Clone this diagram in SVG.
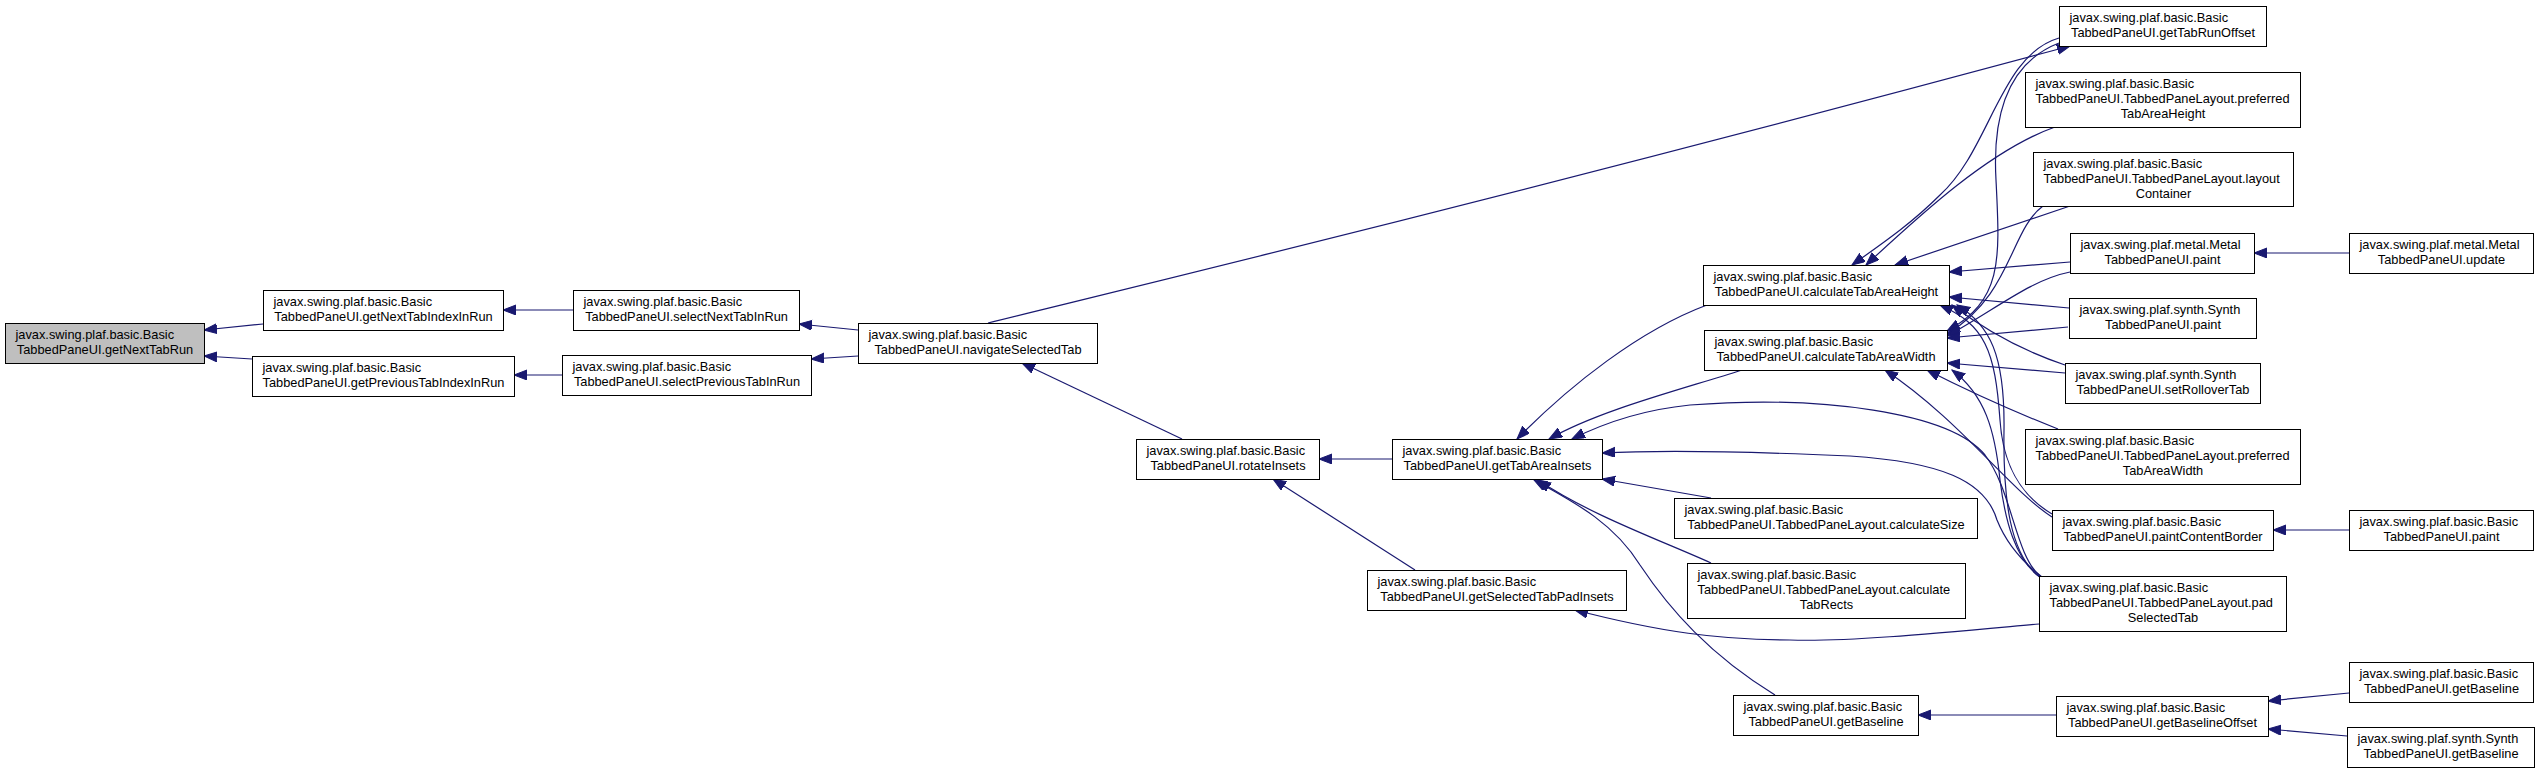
<svg xmlns="http://www.w3.org/2000/svg" width="2540" height="773" viewBox="0 0 2540 773">
<defs>
<marker id="a" markerUnits="userSpaceOnUse" markerWidth="14" markerHeight="11" refX="13" refY="5" orient="auto">
<path d="M0,0 L13,5 L0,10 Z" fill="#191970" stroke="#191970" stroke-width="1"/>
</marker>
</defs>
<style>
.n rect{fill:#fff;stroke:#000;stroke-width:1}
#root rect{fill:#bfbfbf}
text{font-family:"Liberation Sans",Arial,sans-serif;font-size:12.8px;fill:#000}
.c{text-anchor:middle}
#edges path{fill:none;stroke:#191970;stroke-width:1.2;marker-end:url(#a)}
</style>
<rect width="2540" height="773" fill="#fff"/>
<g id="edges">
<path d="M263,324 L204,330"/>
<path d="M252,359 L204,356"/>
<path d="M573,310 L503,310"/>
<path d="M562,375 L514,375"/>
<path d="M858,330 L799,324"/>
<path d="M858,356 L811,359"/>
<path d="M988,323 C1100,295 1500,200 2070,46"/>
<path d="M1182,439 L1022,363"/>
<path d="M1392,459 L1319,459"/>
<path d="M1415,570 L1273,479"/>
<path d="M1707,305 C1640,330 1570,385 1517,439"/>
<path d="M1742,370 C1680,390 1600,410 1549,439"/>
<path d="M2040,576 C2015,555 2012,490 1985,455 C1950,412 1820,395 1690,405 C1640,410 1600,425 1572,439"/>
<path d="M2042,577 C2020,560 2005,540 1997,520 C1985,480 1940,462 1850,456 C1760,452 1660,450 1602,453"/>
<path d="M1711,498 L1602,479"/>
<path d="M1711,563 C1660,540 1590,515 1538,480"/>
<path d="M1775,695 C1710,655 1670,610 1640,565 C1615,525 1580,505 1534,480"/>
<path d="M2039,624 C1950,632 1850,642 1790,640 C1720,640 1660,632 1575,610"/>
<path d="M2059,38 C2000,55 1990,150 1940,195 C1910,225 1880,245 1852,265"/>
<path d="M2055,127 C1990,150 1920,215 1866,265"/>
<path d="M2070,206 L1895,265"/>
<path d="M2070,262 L1949,272"/>
<path d="M2069,308 L1949,297"/>
<path d="M2065,365 C2020,350 1985,330 1952,305"/>
<path d="M2052,514 C2020,495 2003,465 2000,420 C1995,350 1985,325 1940,305"/>
<path d="M2040,577 C2010,555 2003,500 2004,430 C2005,355 1990,325 1957,305"/>
<path d="M2059,43 C2010,62 1992,110 1996,180 C2000,260 2003,300 1947,331"/>
<path d="M2043,206 C2010,230 2012,295 1947,334"/>
<path d="M2070,272 C2030,280 1995,310 1947,336"/>
<path d="M2068,327 L1947,338"/>
<path d="M2065,373 L1947,363"/>
<path d="M2058,429 C2010,410 1970,392 1927,370"/>
<path d="M2052,517 C2010,490 1960,420 1885,370"/>
<path d="M2041,578 C2015,560 2005,520 2000,480 C1995,430 1985,395 1952,370"/>
<path d="M2349,253 L2254,253"/>
<path d="M2349,530 L2273,530"/>
<path d="M2056,715 L1918,715"/>
<path d="M2349,693 L2268,701"/>
<path d="M2347,736 L2268,729"/>
</g>
<g id="root" class="n"><rect x="5.5" y="323.5" width="199" height="40"/><text x="15.5" y="339">javax.swing.plaf.basic.Basic</text><text class="c" x="105" y="354">TabbedPaneUI.getNextTabRun</text></g>
<g id="n2" class="n"><rect x="263.5" y="290.5" width="240" height="40"/><text x="273.5" y="306">javax.swing.plaf.basic.Basic</text><text class="c" x="383.5" y="321">TabbedPaneUI.getNextTabIndexInRun</text></g>
<g id="n3" class="n"><rect x="252.5" y="356.5" width="262" height="40"/><text x="262.5" y="372">javax.swing.plaf.basic.Basic</text><text class="c" x="383.5" y="387">TabbedPaneUI.getPreviousTabIndexInRun</text></g>
<g id="n4" class="n"><rect x="573.5" y="290.5" width="226" height="40"/><text x="583.5" y="306">javax.swing.plaf.basic.Basic</text><text class="c" x="686.5" y="321">TabbedPaneUI.selectNextTabInRun</text></g>
<g id="n5" class="n"><rect x="562.5" y="355.5" width="249" height="40"/><text x="572.5" y="371">javax.swing.plaf.basic.Basic</text><text class="c" x="687" y="386">TabbedPaneUI.selectPreviousTabInRun</text></g>
<g id="n6" class="n"><rect x="858.5" y="323.5" width="239" height="40"/><text x="868.5" y="339">javax.swing.plaf.basic.Basic</text><text class="c" x="978" y="354">TabbedPaneUI.navigateSelectedTab</text></g>
<g id="n7" class="n"><rect x="1136.5" y="439.5" width="183" height="40"/><text x="1146.5" y="455">javax.swing.plaf.basic.Basic</text><text class="c" x="1228" y="470">TabbedPaneUI.rotateInsets</text></g>
<g id="n8" class="n"><rect x="1392.5" y="439.5" width="210" height="40"/><text x="1402.5" y="455">javax.swing.plaf.basic.Basic</text><text class="c" x="1497.5" y="470">TabbedPaneUI.getTabAreaInsets</text></g>
<g id="n9" class="n"><rect x="1367.5" y="570.5" width="259" height="40"/><text x="1377.5" y="586">javax.swing.plaf.basic.Basic</text><text class="c" x="1497" y="601">TabbedPaneUI.getSelectedTabPadInsets</text></g>
<g id="n10" class="n"><rect x="1703.5" y="265.5" width="246" height="40"/><text x="1713.5" y="281">javax.swing.plaf.basic.Basic</text><text class="c" x="1826.5" y="296">TabbedPaneUI.calculateTabAreaHeight</text></g>
<g id="n11" class="n"><rect x="1704.5" y="330.5" width="243" height="40"/><text x="1714.5" y="346">javax.swing.plaf.basic.Basic</text><text class="c" x="1826" y="361">TabbedPaneUI.calculateTabAreaWidth</text></g>
<g id="n12" class="n"><rect x="1674.5" y="498.5" width="303" height="40"/><text x="1684.5" y="514">javax.swing.plaf.basic.Basic</text><text class="c" x="1826" y="529">TabbedPaneUI.TabbedPaneLayout.calculateSize</text></g>
<g id="n13" class="n"><rect x="1687.5" y="563.5" width="278" height="55"/><text x="1697.5" y="579">javax.swing.plaf.basic.Basic</text><text x="1697.5" y="594">TabbedPaneUI.TabbedPaneLayout.calculate</text><text class="c" x="1826.5" y="608.5">TabRects</text></g>
<g id="n14" class="n"><rect x="1733.5" y="695.5" width="185" height="40"/><text x="1743.5" y="711">javax.swing.plaf.basic.Basic</text><text class="c" x="1826" y="726">TabbedPaneUI.getBaseline</text></g>
<g id="n15" class="n"><rect x="2059.5" y="6.5" width="207" height="40"/><text x="2069.5" y="22">javax.swing.plaf.basic.Basic</text><text class="c" x="2163" y="37">TabbedPaneUI.getTabRunOffset</text></g>
<g id="n16" class="n"><rect x="2025.5" y="72.5" width="275" height="55"/><text x="2035.5" y="88">javax.swing.plaf.basic.Basic</text><text x="2035.5" y="103">TabbedPaneUI.TabbedPaneLayout.preferred</text><text class="c" x="2163" y="117.5">TabAreaHeight</text></g>
<g id="n17" class="n"><rect x="2033.5" y="152.5" width="260" height="54"/><text x="2043.5" y="168">javax.swing.plaf.basic.Basic</text><text x="2043.5" y="183">TabbedPaneUI.TabbedPaneLayout.layout</text><text class="c" x="2163.5" y="197.5">Container</text></g>
<g id="n18" class="n"><rect x="2070.5" y="233.5" width="184" height="40"/><text x="2080.5" y="249">javax.swing.plaf.metal.Metal</text><text class="c" x="2162.5" y="264">TabbedPaneUI.paint</text></g>
<g id="n19" class="n"><rect x="2349.5" y="233.5" width="184" height="40"/><text x="2359.5" y="249">javax.swing.plaf.metal.Metal</text><text class="c" x="2441.5" y="264">TabbedPaneUI.update</text></g>
<g id="n20" class="n"><rect x="2069.5" y="298.5" width="187" height="40"/><text x="2079.5" y="314">javax.swing.plaf.synth.Synth</text><text class="c" x="2163" y="329">TabbedPaneUI.paint</text></g>
<g id="n21" class="n"><rect x="2065.5" y="363.5" width="195" height="40"/><text x="2075.5" y="379">javax.swing.plaf.synth.Synth</text><text class="c" x="2163" y="394">TabbedPaneUI.setRolloverTab</text></g>
<g id="n22" class="n"><rect x="2025.5" y="429.5" width="275" height="55"/><text x="2035.5" y="445">javax.swing.plaf.basic.Basic</text><text x="2035.5" y="460">TabbedPaneUI.TabbedPaneLayout.preferred</text><text class="c" x="2163" y="474.5">TabAreaWidth</text></g>
<g id="n23" class="n"><rect x="2052.5" y="510.5" width="221" height="40"/><text x="2062.5" y="526">javax.swing.plaf.basic.Basic</text><text class="c" x="2163" y="541">TabbedPaneUI.paintContentBorder</text></g>
<g id="n24" class="n"><rect x="2349.5" y="510.5" width="184" height="40"/><text x="2359.5" y="526">javax.swing.plaf.basic.Basic</text><text class="c" x="2441.5" y="541">TabbedPaneUI.paint</text></g>
<g id="n25" class="n"><rect x="2039.5" y="576.5" width="247" height="55"/><text x="2049.5" y="592">javax.swing.plaf.basic.Basic</text><text x="2049.5" y="607">TabbedPaneUI.TabbedPaneLayout.pad</text><text class="c" x="2163" y="621.5">SelectedTab</text></g>
<g id="n26" class="n"><rect x="2056.5" y="696.5" width="212" height="40"/><text x="2066.5" y="712">javax.swing.plaf.basic.Basic</text><text class="c" x="2162.5" y="727">TabbedPaneUI.getBaselineOffset</text></g>
<g id="n27" class="n"><rect x="2349.5" y="662.5" width="184" height="40"/><text x="2359.5" y="678">javax.swing.plaf.basic.Basic</text><text class="c" x="2441.5" y="693">TabbedPaneUI.getBaseline</text></g>
<g id="n28" class="n"><rect x="2347.5" y="727.5" width="187" height="40"/><text x="2357.5" y="743">javax.swing.plaf.synth.Synth</text><text class="c" x="2441" y="758">TabbedPaneUI.getBaseline</text></g>
</svg>
